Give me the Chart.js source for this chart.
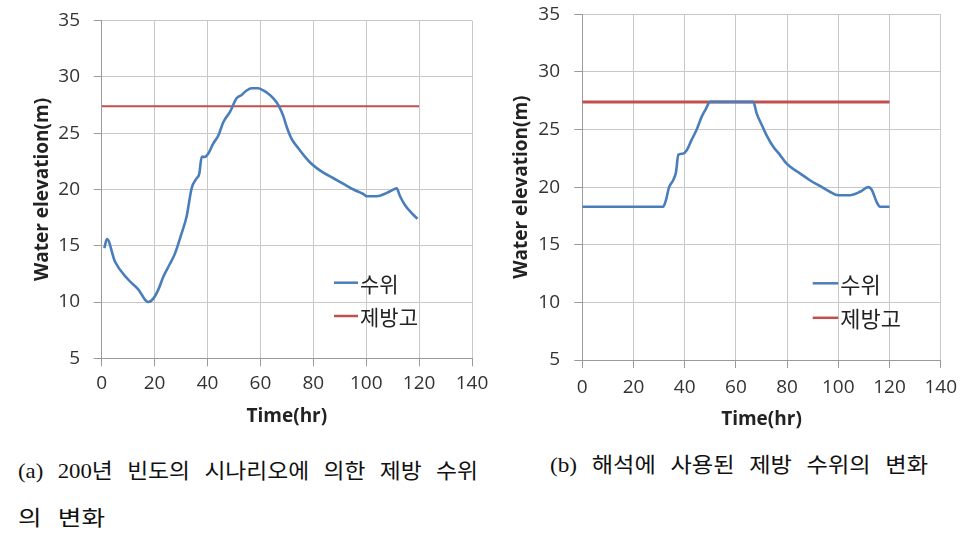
<!DOCTYPE html>
<html>
<head>
<meta charset="utf-8">
<script src="https://cdn.jsdelivr.net/npm/chart.js@4"></script>
<style>
  body { margin: 0; background: #fff; width: 974px; height: 534px; position: relative; overflow: hidden; }
  canvas { position: absolute; top: 0; }
  .cap { position: absolute; font-family: "Liberation Serif", "Noto Sans CJK KR", serif; font-size: 21px;
         line-height: 24px; color: #111; white-space: nowrap; word-spacing: 8px; transform-origin: 0 50%; }
</style>
</head>
<body>
<canvas id="chartA" width="490" height="428" style="left:0"></canvas>
<canvas id="chartB" width="494" height="431" style="left:480px"></canvas>
<div class="cap" data-w="460" style="left:18px; top:459px">(a) 200년 빈도의 시나리오에 의한 제방 수위</div>
<div class="cap" data-w="87" style="left:18px; top:506px">의 변화</div>
<div class="cap" data-w="378" style="left:550px; top:453px">(b) 해석에 사용된 제방 수위의 변화</div>
<script>
// (a) 200년 빈도 시나리오 수위
var timeA = [1, 2, 5, 10, 13.9, 16.4, 17.6, 19.5, 21.4, 23.3, 25.8, 27.7, 30.2, 32.1, 34, 35.9, 36.9, 37.8, 39.1,
  40.3, 42.2, 44.1, 46, 48.5, 51, 52.9, 54.8, 56.7, 59.2, 61.1, 63, 64.9, 66.8, 68.7, 69.9, 71.8, 74.4, 76.9,
  78.8, 81.3, 83.8, 87.6, 91.4, 95.2, 98.9, 100.2, 104, 107.8, 109.6, 111.5, 112.8, 114.7, 117.2, 119.4];
var levelA = [14.8, 15.6, 13.6, 12.0, 11.1, 10.2, 10.0, 10.3, 11.1, 12.25, 13.4, 14.3, 16.1, 17.6, 20.1, 21.0, 21.4, 22.9, 22.9,
  23.2, 24.1, 24.8, 26.0, 26.9, 28.1, 28.4, 28.8, 29.0, 29.0, 28.8, 28.5, 28.1, 27.5, 26.5, 25.6, 24.5, 23.65, 22.9,
  22.4, 21.9, 21.5, 21.0, 20.5, 20.0, 19.6, 19.4, 19.4, 19.7, 19.9, 20.1, 19.4, 18.6, 17.9, 17.4];

// (b) 해석에 사용된 수위
var timeB = [0, 31.6, 32.7, 33.9, 35.5, 36.6, 37.5, 39.2, 40.8, 42.7, 44.7, 46.6, 48.3, 49.9, 66.8, 68.1, 70.1, 72,
  74.6, 77.2, 79.2, 81.1, 85, 88.9, 92.8, 96.7, 100, 104.6, 108.5, 111.7, 113, 115, 116.3, 120];
var levelB = [18.3, 18.3, 18.9, 20.0, 20.6, 21.3, 22.8, 22.9, 23.2, 24.1, 25.0, 26.1, 26.8, 27.4, 27.4, 26.4, 25.4, 24.5,
  23.5, 22.8, 22.2, 21.8, 21.2, 20.6, 20.1, 19.6, 19.3, 19.3, 19.6, 20.0, 19.8, 18.7, 18.3, 18.3];

// 제방고
var leveeTime = [0, 120];
var leveeHeight = [27.4, 27.4];

var xTicks = [0, 20, 40, 60, 80, 100, 120, 140];
var yTicks = [5, 10, 15, 20, 25, 30, 35];
var seriesNames = ['수위', '제방고'];

function pts(xs, ys) { return xs.map(function(x, i) { return { x: x, y: ys[i] }; }); }

// legend drawn inside the plot area
var insideLegend = {
  id: 'insideLegend',
  afterDraw: function(chart) {
    var o = chart.options.plugins.insideLegend;
    var ctx = chart.ctx;
    ctx.save();
    ctx.font = o.size + 'px "Noto Sans CJK KR", sans-serif';
    ctx.textBaseline = 'middle';
    chart.data.datasets.forEach(function(ds, i) {
      var y = o.y + i * o.dy;
      ctx.strokeStyle = ds.borderColor;
      ctx.lineWidth = 2.5;
      ctx.beginPath();
      ctx.moveTo(o.x, y);
      ctx.lineTo(o.x + o.len, y);
      ctx.stroke();
      ctx.fillStyle = '#222';
      ctx.fillText(ds.label, o.x + o.len + 2, y + 1);
    });
    ctx.restore();
  }
};

function makeChart(id, levelData, cfg) {
  return new Chart(document.getElementById(id), {
    type: 'line',
    data: {
      datasets: [{
        label: seriesNames[0],
        data: levelData,
        borderColor: '#4a7ebb',
        borderWidth: 2.6,
        pointRadius: 0,
        cubicInterpolationMode: 'monotone'
      }, {
        label: seriesNames[1],
        data: pts(leveeTime, leveeHeight),
        borderColor: '#c0504d',
        borderWidth: cfg.redWidth,
        pointRadius: 0
      }]
    },
    options: {
      responsive: false,
      animation: false,
      layout: { padding: { left: 0, top: cfg.top, right: cfg.right, bottom: 0 } },
      plugins: {
        legend: { display: false },
        tooltip: { enabled: false },
        insideLegend: cfg.legend
      },
      scales: {
        x: {
          type: 'linear', min: 0, max: 140,
          afterBuildTicks: function(s) { s.ticks = xTicks.map(function(v) { return { value: v }; }); },
          afterFit: function(s) { s.height = cfg.xHeight; s.paddingLeft = 0; s.paddingRight = 0; },
          ticks: { color: '#333', padding: cfg.xPad, maxRotation: 0, font: { family: 'Open Sans', size: 19 } },
          grid: { color: '#c8c8c8', tickColor: '#9a9a9a', tickLength: 8 },
          border: { color: '#9a9a9a' },
          title: { display: true, text: 'Time(hr)', color: '#222', padding: { top: 0, bottom: 0 },
                   font: { family: 'Open Sans', size: 19, weight: 'bold' } }
        },
        y: {
          min: 5, max: 35,
          afterBuildTicks: function(s) { s.ticks = yTicks.map(function(v) { return { value: v }; }); },
          afterFit: function(s) { s.width = cfg.yWidth; s.paddingTop = 0; s.paddingBottom = 0; },
          ticks: { color: '#333', padding: cfg.yPad, font: { family: 'Open Sans', size: 19 } },
          grid: { color: '#c8c8c8', tickColor: '#9a9a9a', tickLength: 8 },
          border: { color: '#9a9a9a' },
          title: { display: true, text: 'Water elevation(m)', color: '#222', padding: { top: cfg.yTitle, bottom: 0 },
                   font: { family: 'Open Sans', size: 19, weight: 'bold' } }
        }
      }
    },
    plugins: [insideLegend]
  });
}

makeChart('chartA', pts(timeA, levelA), {
  top: 20.7, right: 18, xHeight: 69.7, yWidth: 101.7, xPad: 6, yPad: 13.7, yTitle: 31.6, redWidth: 2,
  legend: { x: 334, y: 282.7, dy: 33.3, len: 24, size: 21 }
});
makeChart('chartB', pts(timeB, levelB), {
  top: 14.3, right: 33.3, xHeight: 71, yWidth: 102.3, xPad: 7.7, yPad: 14.3, yTitle: 30.3, redWidth: 3,
  legend: { x: 332.7, y: 283.3, dy: 34.5, len: 25.6, size: 22 }
});

// fit caption lines to their measured widths
document.querySelectorAll('.cap').forEach(function(el) {
  var w = el.getBoundingClientRect().width;
  el.style.transform = 'scaleX(' + (el.dataset.w / w) + ')';
});
</script>
</body>
</html>
